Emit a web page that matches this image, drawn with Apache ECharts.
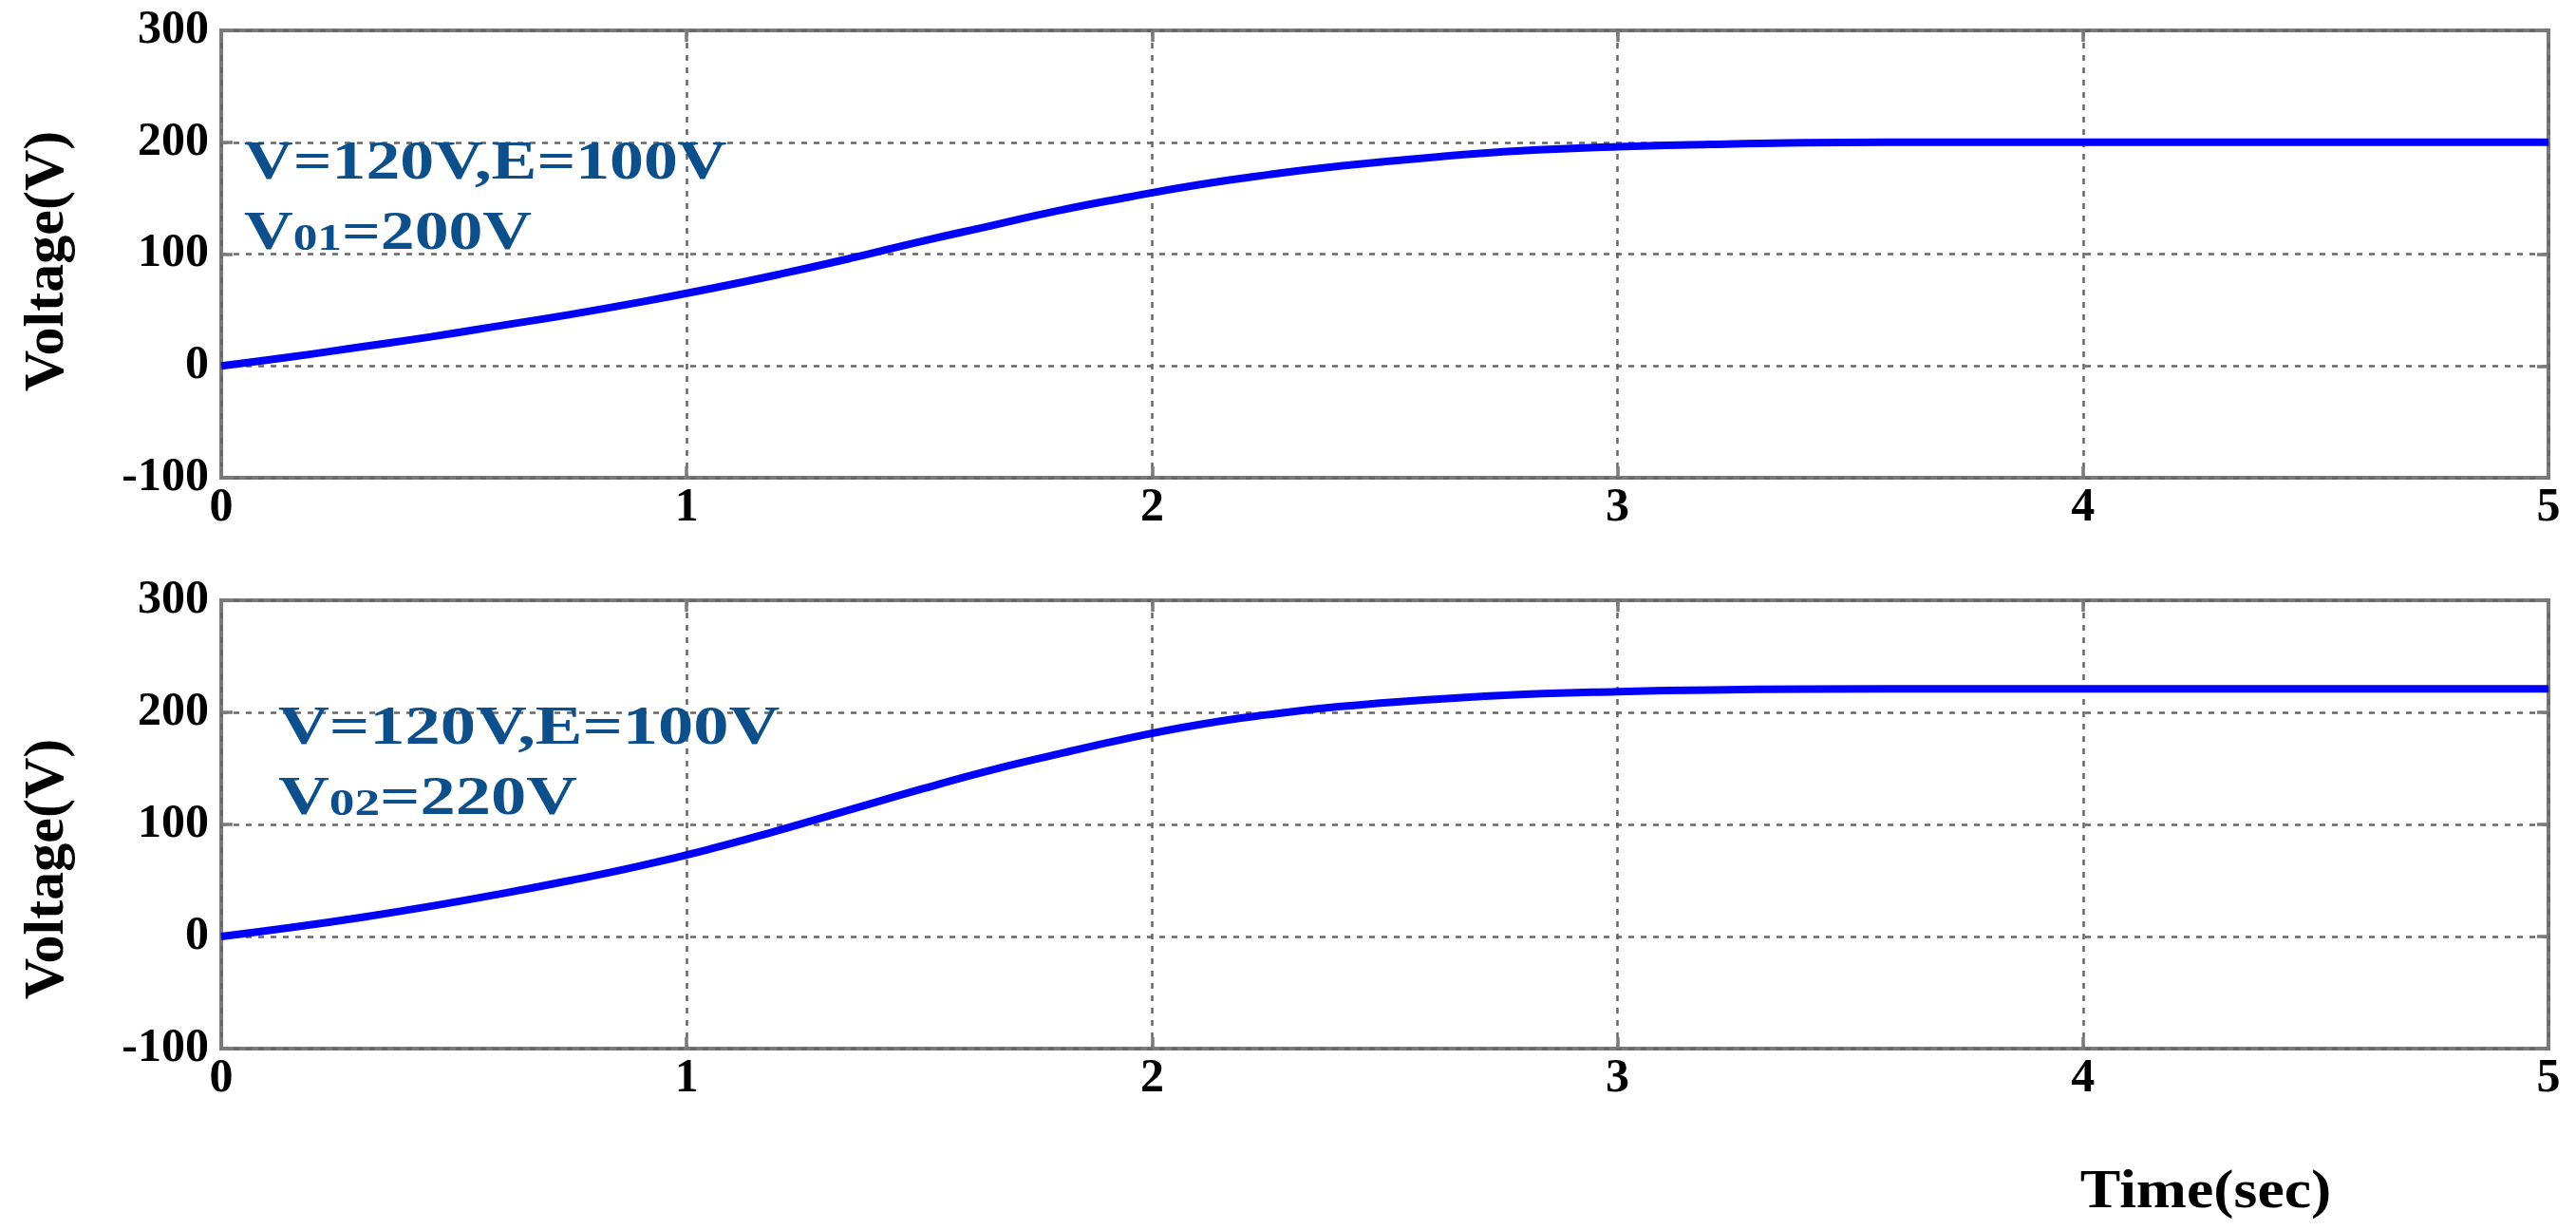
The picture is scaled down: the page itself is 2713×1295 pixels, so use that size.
<!DOCTYPE html>
<html>
<head>
<meta charset="utf-8">
<script src="https://cdn.jsdelivr.net/npm/echarts@6/dist/echarts.min.js"></script>
<style>
html,body{margin:0;padding:0;background:#fff;}
#chart{width:2713px;height:1295px;}
</style>
</head>
<body>
<div id="chart"></div>
<script>
// ---- data ----
var timeSec  = [0, 0.15, 0.3, 0.45, 0.6, 0.75, 0.9, 1.05, 1.2, 1.35, 1.5, 1.65, 1.8, 1.95, 2.1, 2.25, 2.4, 2.6, 2.8, 3.0, 3.2, 3.4, 3.75, 4.0, 4.5, 5.0];
var voltage1 = [0, 8, 17, 26, 36, 46, 57, 69, 82, 96, 111, 125, 139, 151, 162, 171, 178.5, 186.5, 192.5, 196, 198, 199.5, 200, 200, 200, 200];
var voltage2 = [0, 8, 17, 27, 38, 50, 63, 78, 95, 113, 131, 148, 163, 177, 189, 198, 205, 211.5, 216, 218.5, 220, 220.7, 221, 221, 221, 221];
var xTicks = [0,1,2,3,4,5];
var yTicks = [-100,0,100,200,300];
var annot1 = ['V=120V,E=100V', 'V', '01', '=200V'];
var annot2 = ['V=120V,E=100V', 'V', '02', '=220V'];
var yName = 'Voltage(V)';
var xName = 'Time(sec)';

function pairs(xs, ys){ return xs.map(function(x,i){ return [x, ys[i]]; }); }

var chart = echarts.init(document.getElementById('chart'));
var serif = '"Liberation Serif","Times New Roman",serif';
var blue = '#0d4f8b';
var gridStyle = {show:true, lineStyle:{color:'#666', width:2.5, type:[6,7]}};
var tickStyle = {show:true, inside:true, length:12, lineStyle:{color:'#7a7a7a', width:3.5}};
var labelStyle = {fontFamily:serif, fontWeight:'bold', fontSize:50, color:'#000'};

function xAx(gi, pos, labels){
  return {type:'value', gridIndex:gi, position:pos, min:xTicks[0], max:xTicks[xTicks.length-1], interval:1,
    axisLine:{show:false, onZero:false}, axisTick:tickStyle,
    axisLabel: labels ? Object.assign({margin:7}, labelStyle) : {show:false},
    splitLine: labels ? gridStyle : {show:false}};
}
function yAx(gi, pos, labels){
  return {type:'value', gridIndex:gi, position:pos, min:yTicks[0], max:yTicks[yTicks.length-1], interval:100,
    axisLine:{show:false, onZero:false}, axisTick:tickStyle,
    axisLabel: labels ? Object.assign({margin:13}, labelStyle) : {show:false},
    splitLine: labels ? gridStyle : {show:false}};
}

function txt(x, y, text, size, color, sx, rot, extra){
  var st = {text:text, fontFamily:serif, fontWeight:'bold', fontSize:size, fill:color,
            align:'center', verticalAlign:'middle', textAlign:'center', textVerticalAlign:'middle'};
  if (extra) Object.assign(st, extra);
  return {type:'text', x:x, y:y, scaleX:sx || 1, rotation:rot || 0, z:10, style:st};
}

function annot(a, x, y1, y2, sx){
  var left = {align:'left', textAlign:'left'};
  return [
    txt(x, y1, a[0], 56, blue, sx, 0, left),
    txt(x, y2, '{a|'+a[1]+'}{b|'+a[2]+'}{a|'+a[3]+'}', 56, blue, sx, 0, Object.assign({
      rich:{a:{fontFamily:serif, fontWeight:'bold', fontSize:56, color:blue, verticalAlign:'bottom'},
            b:{fontFamily:serif, fontWeight:'bold', fontSize:40, color:blue, verticalAlign:'bottom', padding:[0,0,3,0]}}
    }, left))
  ];
}

var graphics = [].concat(
  annot(annot1, 257, 174, 248, 1.28),
  annot(annot2, 293, 769, 843, 1.33),
  [
    txt(50, 275, yName, 60, '#000', 1, Math.PI/2),
    txt(50, 915, yName, 60, '#000', 1, Math.PI/2),
    txt(2323, 1256, xName, 58, '#000', 1.1, 0)
  ]
);

chart.setOption({
  backgroundColor:'#fff',
  animation:false,
  grid:[
    {left:233, right:29, top:32, height:471, show:true, borderColor:'#7a7a7a', borderWidth:4, backgroundColor:'#fff'},
    {left:233, right:29, top:632, height:472, show:true, borderColor:'#7a7a7a', borderWidth:4, backgroundColor:'#fff'}
  ],
  xAxis:[xAx(0,'bottom',true), xAx(0,'top',false), xAx(1,'bottom',true), xAx(1,'top',false)],
  yAxis:[yAx(0,'left',true), yAx(0,'right',false), yAx(1,'left',true), yAx(1,'right',false)],
  series:[
    {type:'line', xAxisIndex:0, yAxisIndex:0, data:pairs(timeSec, voltage1), smooth:0.5, showSymbol:false,
     lineStyle:{color:'#0000ff', width:8}, z:5},
    {type:'line', xAxisIndex:2, yAxisIndex:2, data:pairs(timeSec, voltage2), smooth:0.5, showSymbol:false,
     lineStyle:{color:'#0000ff', width:8}, z:5}
  ],
  graphic:graphics
});
</script>
</body>
</html>
